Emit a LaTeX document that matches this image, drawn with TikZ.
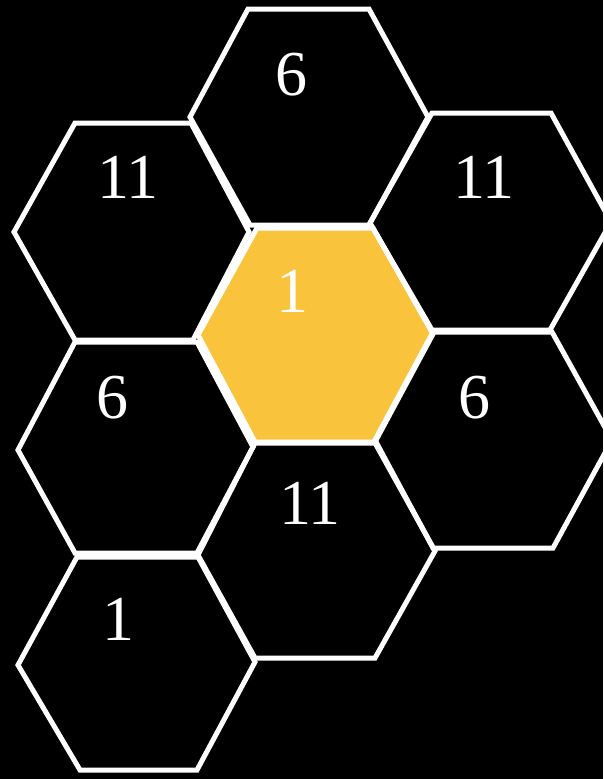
\documentclass[tikz,border=0pt]{standalone}
\usepackage{fontspec}
\setmainfont{Liberation Serif}
\definecolor{honey}{RGB}{249,195,60}
\tikzset{
  hexline/.style={draw=white, line width=5pt, line join=miter},
  hexlabel/.style={text=white, anchor=base, inner sep=0pt, font=\fontsize{64}{64}\selectfont}
}
\begin{document}
\begin{tikzpicture}[x=1pt, y=-1pt]
\fill[black] (0,0) rectangle (603,779);
\useasboundingbox (0,0) rectangle (603,779);
\clip (0,0) rectangle (603,779);
% centre hex fill
\fill[honey] (257,228) -- (373,228) -- (433,334) -- (375,442) -- (255,442) -- (198,335) -- cycle;
% outlines
\path[hexline] (248,9) -- (369,9) -- (428,117) -- (369,225) -- (250,225) -- (190,117) -- cycle;
\path[hexline] (75,123) -- (191,123) -- (249,232) -- (193,340) -- (75,340) -- (14,232) -- cycle;
\path[hexline] (432,113) -- (551,113) -- (611,222) -- (550,330) -- (432,330) -- (370,223) -- cycle;
\path[hexline] (257,228) -- (373,228) -- (433,334) -- (375,442) -- (255,442) -- (198,335) -- cycle;
\path[hexline] (75,342) -- (197,342) -- (253,447) -- (197,553) -- (75,553) -- (18,450) -- cycle;
\path[hexline] (433,332) -- (552,332) -- (612,440) -- (553,548) -- (433,548) -- (375,440) -- cycle;
\path[hexline] (255,443) -- (375,443) -- (435,551) -- (375,658) -- (255,658) -- (198,555) -- cycle;
\path[hexline] (77,557) -- (198,557) -- (255,662) -- (197,770) -- (80,770) -- (18,665) -- cycle;
% labels
\node[hexlabel] (lA) at (291,95) {6};
\node[hexlabel] (lB) at (128,198) {11};
\node[hexlabel] (lC) at (484,198) {11};
\node[hexlabel] (lD) at (292,312) {1};
\node[hexlabel] (lE) at (112,418) {6};
\node[hexlabel] (lF) at (474,418) {6};
\node[hexlabel] (lG) at (310,524) {11};
\node[hexlabel] (lH) at (118,640) {1};
\end{tikzpicture}
\end{document}
